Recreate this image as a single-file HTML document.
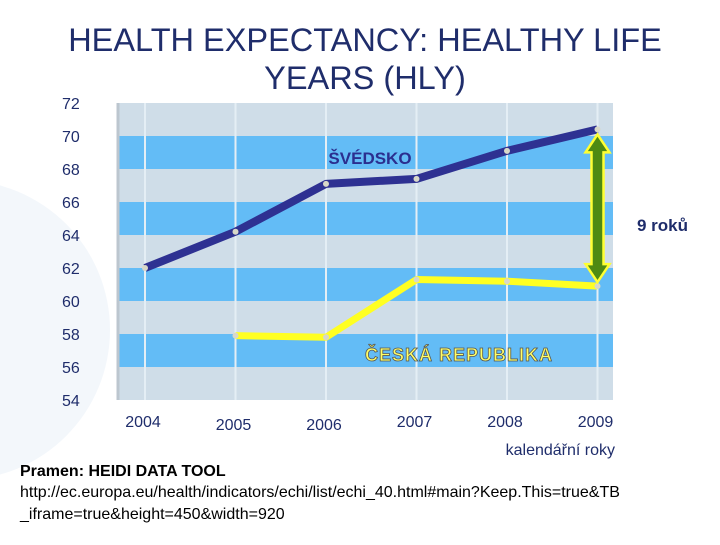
<!DOCTYPE html>
<html><head><meta charset="utf-8"><style>
body{margin:0;width:720px;height:540px;background:#fff;overflow:hidden;font-family:"Liberation Sans",sans-serif}
</style></head><body>
<svg width="720" height="540">
<circle cx="-40" cy="330" r="150" fill="#f3f7fb"/>
<text x="365" y="51" font-size="32.5" text-anchor="middle" fill="#1f2d6b">HEALTH EXPECTANCY: HEALTHY LIFE</text>
<text x="365" y="89" font-size="32.5" text-anchor="middle" fill="#1f2d6b">YEARS (HLY)</text>
<g id="bands"></g><g id="axis"></g><g id="series"></g>
<text x="370" y="164" font-size="17" font-weight="bold" text-anchor="middle" fill="#2b2f8f">ŠVÉDSKO</text>
<text x="459" y="361" font-size="18" font-weight="bold" text-anchor="middle" fill="#ffff66" stroke="#555" stroke-width="0.8" letter-spacing="1">ČESKÁ REPUBLIKA</text>
<text x="688" y="231" font-size="17" font-weight="bold" text-anchor="end" fill="#1f2d6b">9 roků</text>
<text x="615" y="455" font-size="16" text-anchor="end" fill="#1f2d6b">kalendářní roky</text>
<text x="20" y="476" font-size="16" font-weight="bold" fill="#000">Pramen: HEIDI DATA TOOL</text>
<text x="20" y="497" font-size="16" fill="#000">http://ec.europa.eu/health/indicators/echi/list/echi_40.html#main?Keep.This=true&amp;TB</text>
<text x="20" y="519" font-size="16" fill="#000">_iframe=true&amp;height=450&amp;width=920</text>
</svg>
<script>
const years=["2004","2005","2006","2007","2008","2009"];
const sweden=[62,64.2,67.1,67.4,69.1,70.4];
const czech=[null,57.9,57.8,61.3,61.2,60.9];
const yTicks=[54,56,58,60,62,64,66,68,70,72];
const NS="http://www.w3.org/2000/svg";
const L=118,R=613,T=103,B=400;
const y=v=>B-(v-54)/(72-54)*(B-T);
const x=i=>145+i*90.5;
function mk(t,a,p){const e=document.createElementNS(NS,t);for(const k in a)e.setAttribute(k,a[k]);(p||document.querySelector('svg')).appendChild(e);return e;}
const bands=document.getElementById('bands'),axis=document.getElementById('axis'),ser=document.getElementById('series');
for(let i=0;i<yTicks.length-1;i++){
 const r=mk('rect',{x:L,y:y(yTicks[i+1]),width:R-L,height:y(yTicks[i])-y(yTicks[i+1]),fill:i%2==0?'#cfdde8':'#63bcf6'},bands);
 
 
}
years.forEach((s,i)=>{
 const g=mk('line',{x1:x(i),x2:x(i),y1:T,y2:B,stroke:'#e4eef5','stroke-width':2},bands);
 
 
 const t=mk('text',{x:x(i)-2,y:(i==1||i==2)?430:427,'font-size':16,'text-anchor':'middle',fill:'#1f2d6b'},axis);
 t.textContent=s;
 
 
});
mk('line',{x1:L,x2:L,y1:T,y2:B,stroke:'#bcc6cf','stroke-width':3},axis);
yTicks.forEach(v=>{
 const t=mk('text',{x:62,y:y(v)+6,'font-size':16,fill:'#1f2d6b'},axis);
 t.textContent=v;
 
 
});
function line(vals,color,w,name){
 const pts=vals.map((v,i)=>v==null?null:[x(i),y(v)]).filter(p=>p);
 const p=mk('polyline',{points:pts.map(p=>p.join(',')).join(' '),fill:'none',stroke:color,'stroke-width':w,'stroke-linejoin':'round'},ser);
 
 
 pts.forEach(q=>{const c=mk('circle',{cx:q[0],cy:q[1],r:3,fill:'#d8d8c8'},ser);
 
 });
}
line(czech,'#ffff22',7,'czech-line');
line(sweden,'#2e3192',8,'sweden-line');
const ax=x(5),y1=y(sweden[5])+5,y2=y(czech[5])-4;
const arrow=mk('polygon',{points:`${ax},${y1} ${ax+12},${y1+18} ${ax+6},${y1+18} ${ax+6},${y2-18} ${ax+12},${y2-18} ${ax},${y2} ${ax-12},${y2-18} ${ax-6},${y2-18} ${ax-6},${y1+18} ${ax-12},${y1+18}`,fill:'#4e8a12',stroke:'#ffff33','stroke-width':2.5},ser);


</script>
</body></html>
